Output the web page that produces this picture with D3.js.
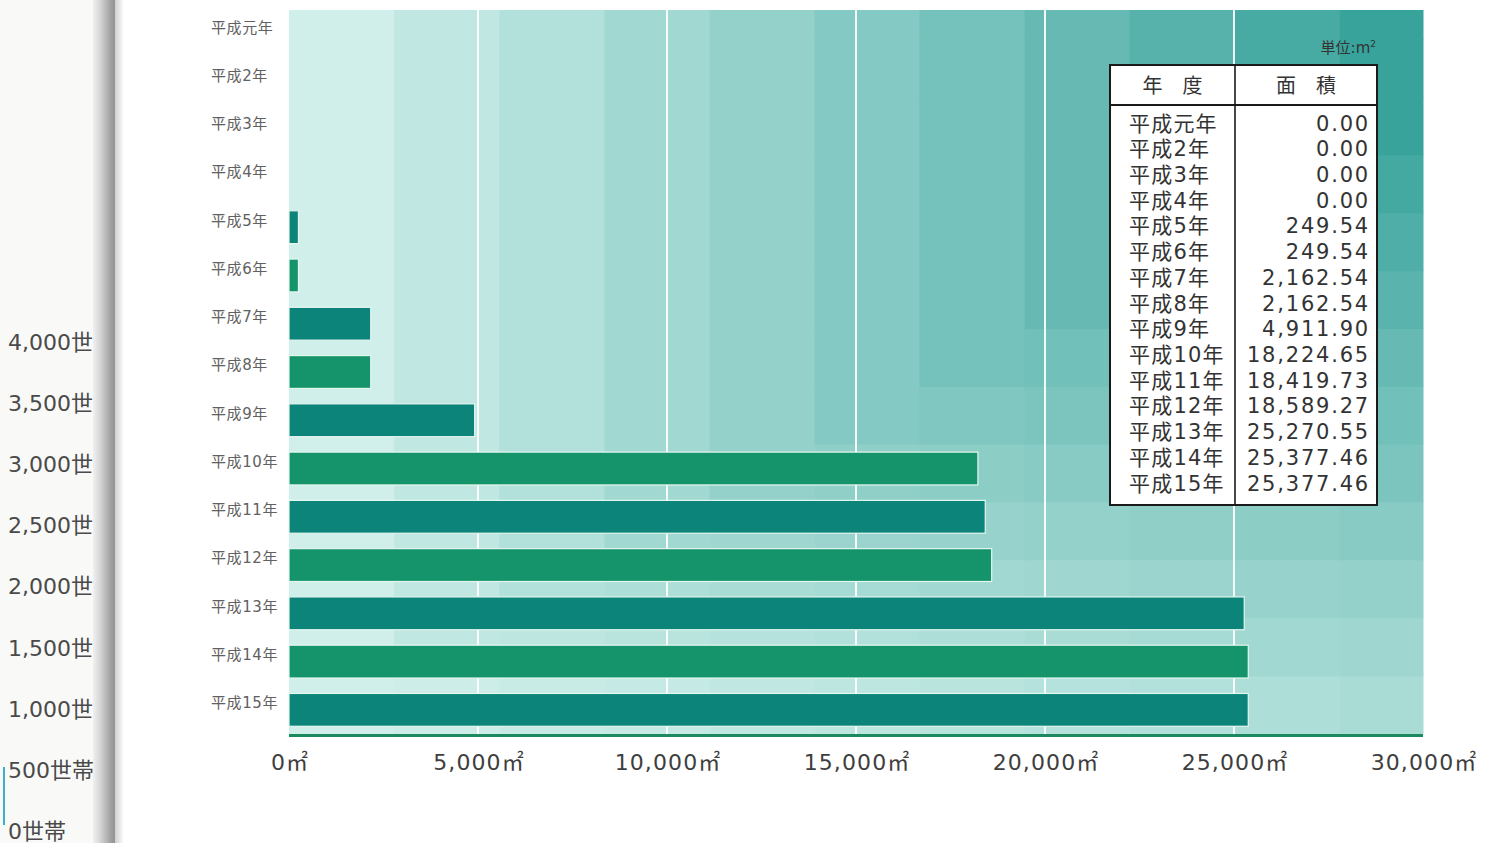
<!DOCTYPE html>
<html lang="ja">
<head>
<meta charset="utf-8">
<title>緑化面積の推移</title>
<script src="https://cdn.jsdelivr.net/npm/d3@7"></script>
<style>
  html, body { margin: 0; padding: 0; background: #ffffff; }
  svg { display: block; }
</style>
</head>
<body>
<svg id="chart" width="1498" height="843"></svg>
<script>
// 年度ごとの面積（㎡）
const years = ["平成元年", "平成2年", "平成3年", "平成4年", "平成5年", "平成6年", "平成7年", "平成8年",
  "平成9年", "平成10年", "平成11年", "平成12年", "平成13年", "平成14年", "平成15年"];
const areas = [0, 0, 0, 0, 249.54, 249.54, 2162.54, 2162.54, 4911.90, 18224.65, 18419.73,
  18589.27, 25270.55, 25377.46, 25377.46];
const xTicks = [0, 5000, 10000, 15000, 20000, 25000, 30000];
// 隣のページ（世帯数グラフ）の目盛
const householdTicks = [0, 500, 1000, 1500, 2000, 2500, 3000, 3500, 4000];

const svg = d3.select("#chart");
const W = 1498, H = 843;
const plot = { left: 289, right: 1423, top: 10, bottom: 734 };

const x = d3.scaleLinear().domain([0, 30000]).range([plot.left, plot.right]);
const y = d3.scaleBand().domain(years).range([plot.top, plot.bottom])
  .paddingInner(0.32).paddingOuter(0.16);

const NUM_FONT = "'DejaVu Sans', 'Noto Sans CJK JP', sans-serif";
const JP_FONT = "'Noto Sans CJK JP', 'Noto Sans CJK SC', sans-serif";

// ---- 左ページの名残（世帯数の目盛とノドの影） ----
const left = svg.append("g");
left.append("rect").attr("x", 0).attr("y", 0).attr("width", 116).attr("height", H).attr("fill", "#f9f9f8");
const hy = d3.scaleLinear().domain([0, 4000]).range([831, 342]);
left.selectAll("text").data(householdTicks).join("text")
  .attr("x", 8).attr("y", d => hy(d)).attr("dy", "0.36em")
  .attr("font-family", NUM_FONT).attr("font-size", 22).attr("fill", "#4a4a4a")
  .text(d => d3.format(",")(d) + "世帯");
left.append("line").attr("x1", 4).attr("x2", 4).attr("y1", hy(500) - 3).attr("y2", hy(0) - 6)
  .attr("stroke", "#3aaecb").attr("stroke-width", 2);

const defs = svg.append("defs");
const gut = defs.append("linearGradient").attr("id", "gutter").attr("x1", 0).attr("x2", 1).attr("y1", 0).attr("y2", 0);
[[0, "#f1f1f1"], [0.3, "#d8d8d8"], [0.55, "#bdbdbd"], [0.85, "#9c9c9c"], [1, "#959595"]]
  .forEach(([o, c]) => gut.append("stop").attr("offset", o).attr("stop-color", c));
svg.append("rect").attr("x", 93).attr("y", 0).attr("width", 22).attr("height", H).attr("fill", "url(#gutter)");
const gut2 = defs.append("linearGradient").attr("id", "gutter2").attr("x1", 0).attr("x2", 1).attr("y1", 0).attr("y2", 0);
[[0, "#cfcfcf"], [1, "#ffffff"]].forEach(([o, c]) => gut2.append("stop").attr("offset", o).attr("stop-color", c));
svg.append("rect").attr("x", 115).attr("y", 0).attr("width", 9).attr("height", H).attr("fill", "url(#gutter2)");

// ---- グラフ背景：右上へ向かって濃くなる段階的な色面 ----
const bg = svg.append("g");
const shade = d3.interpolateRgb("#d0efea", "#38a39b");
const stepX = 2780;                                   // ㎡ per column
const stepY = (plot.bottom - plot.top) * 0.08;        // px per row
const nCols = Math.ceil(30000 / stepX);               // 11
const nRows = Math.ceil((plot.bottom - plot.top) / stepY); // 13
for (let kx = 0; kx < nCols; kx++) {
  const x0 = x(kx * stepX);
  const x1 = Math.min(plot.right, x((kx + 1) * stepX));
  for (let ky = 0; ky < nRows; ky++) {
    const yb = plot.bottom - ky * stepY;
    const yt = Math.max(plot.top, plot.bottom - (ky + 1) * stepY);
    const k = Math.min(kx, ky);
    const t = 0.25 * kx / (nCols - 1) + 0.75 * k / (nCols - 1);
    bg.append("rect")
      .attr("x", x0).attr("y", yt)
      .attr("width", x1 - x0 + 0.5).attr("height", yb - yt + 0.5)
      .attr("fill", shade(Math.min(1, t)));
  }
}

// 目盛の白い縦線
bg.selectAll("line.grid").data(xTicks.filter(d => d > 0 && d < 30000)).join("line")
  .attr("class", "grid")
  .attr("x1", d => x(d)).attr("x2", d => x(d))
  .attr("y1", plot.top).attr("y2", plot.bottom)
  .attr("stroke", "#ffffff").attr("stroke-opacity", 0.9).attr("stroke-width", 2);

// ---- 棒 ----
const barColors = ["#0c8479", "#15936b"];
svg.append("g").selectAll("rect").data(years.map((yr, i) => ({ yr, v: areas[i], i })))
  .join("rect")
  .attr("x", x(0))
  .attr("y", d => y(d.yr))
  .attr("width", d => x(d.v) - x(0))
  .attr("height", y.bandwidth())
  .attr("fill", d => barColors[d.i % 2])
  .attr("stroke", d => d.v > 0 ? "#e4f7ef" : "none")
  .attr("stroke-width", 1.2);

// 基準線
svg.append("line")
  .attr("x1", plot.left).attr("x2", plot.right)
  .attr("y1", plot.bottom + 1.5).attr("y2", plot.bottom + 1.5)
  .attr("stroke", "#1c8a5e").attr("stroke-width", 3);

// ---- 年度ラベル ----
svg.append("g").selectAll("text").data(years).join("text")
  .attr("x", 211)
  .attr("y", d => y(d) + y.bandwidth() / 2 - 7)
  .attr("dy", "0.36em")
  .attr("font-family", NUM_FONT).attr("font-size", 15).attr("letter-spacing", 0.6)
  .attr("fill", "#616161")
  .text(d => d);

// ---- 横軸ラベル ----
svg.append("g").selectAll("text").data(xTicks).join("text")
  .attr("x", d => x(d) + 1)
  .attr("y", 762)
  .attr("dy", "0.36em")
  .attr("text-anchor", "middle")
  .attr("font-family", NUM_FONT).attr("font-size", 22).attr("letter-spacing", 1.1)
  .attr("fill", "#3e3e3e")
  .text(d => d3.format(",")(d) + "㎡");

// ---- 数表 ----
const tbl = { x0: 1110, x1: 1377, xm: 1235, top: 65, head: 105, bottom: 505 };
const tg = svg.append("g");
const unit = tg.append("text")
  .attr("x", tbl.x1 - 1).attr("y", 48).attr("dy", "0.36em").attr("text-anchor", "end")
  .attr("font-family", NUM_FONT).attr("font-size", 15).attr("fill", "#333");
unit.append("tspan").text("単位:m");
unit.append("tspan").attr("font-size", 9).attr("dy", "-0.7em").text("2");

tg.append("rect").attr("x", tbl.x0).attr("y", tbl.top)
  .attr("width", tbl.x1 - tbl.x0).attr("height", tbl.bottom - tbl.top)
  .attr("fill", "#ffffff").attr("stroke", "#1a1a1a").attr("stroke-width", 2);
tg.append("line").attr("x1", tbl.x0).attr("x2", tbl.x1).attr("y1", tbl.head).attr("y2", tbl.head)
  .attr("stroke", "#1a1a1a").attr("stroke-width", 2);
tg.append("line").attr("x1", tbl.xm).attr("x2", tbl.xm).attr("y1", tbl.top).attr("y2", tbl.bottom)
  .attr("stroke", "#1a1a1a").attr("stroke-width", 1.6);

tg.append("text").attr("x", (tbl.x0 + tbl.xm) / 2).attr("y", (tbl.top + tbl.head) / 2 + 1)
  .attr("dy", "0.36em").attr("text-anchor", "middle")
  .attr("font-family", JP_FONT).attr("font-size", 20).attr("fill", "#333").text("年　度");
tg.append("text").attr("x", (tbl.xm + tbl.x1) / 2).attr("y", (tbl.top + tbl.head) / 2 + 1)
  .attr("dy", "0.36em").attr("text-anchor", "middle")
  .attr("font-family", JP_FONT).attr("font-size", 20).attr("fill", "#333").text("面　積");

const ty = d3.scalePoint().domain(years).range([123, 483]);
tg.append("g").selectAll("text").data(years).join("text")
  .attr("x", 1129).attr("y", d => ty(d)).attr("dy", "0.36em")
  .attr("font-family", NUM_FONT).attr("font-size", 21).attr("letter-spacing", 1.2)
  .attr("fill", "#333").text(d => d);
tg.append("g").selectAll("text").data(years.map((yr, i) => ({ yr, v: areas[i] }))).join("text")
  .attr("x", 1370).attr("y", d => ty(d.yr)).attr("dy", "0.36em").attr("text-anchor", "end")
  .attr("font-family", NUM_FONT).attr("font-size", 21).attr("letter-spacing", 1.8)
  .attr("fill", "#333").text(d => d3.format(",.2f")(d.v));
</script>
</body>
</html>
